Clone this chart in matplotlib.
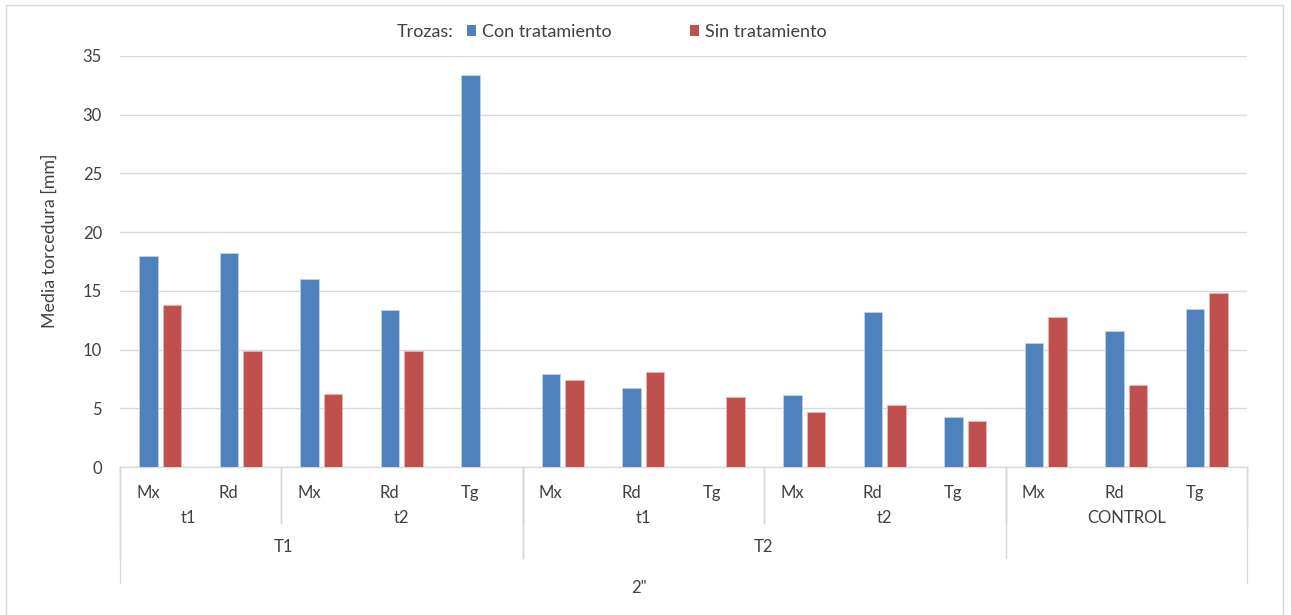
import matplotlib.pyplot as plt
from matplotlib.patches import Patch, Rectangle
import numpy as np

plt.rcParams['font.family'] = ['Lato', 'DejaVu Sans']

# data
piezas = ['Mx', 'Rd', 'Mx', 'Rd', 'Tg', 'Mx', 'Rd', 'Tg', 'Mx', 'Rd', 'Tg', 'Mx', 'Rd', 'Tg']
con_tratamiento = [17.95, 18.2, 16.05, 13.35, 33.4, 7.9, 6.7, np.nan, 6.15, 13.2, 4.25, 10.55, 11.55, 13.45]
sin_tratamiento = [13.8, 9.9, 6.2, 9.9, np.nan, 7.4, 8.05, 6.0, 4.65, 5.25, 3.9, 12.8, 6.95, 14.85]
# second level: (label, first index, last index)
subgrupos = [('t1', 0, 1), ('t2', 2, 4), ('t1', 5, 7), ('t2', 8, 10), ('CONTROL', 11, 13)]
# third level
grupos = [('T1', 0, 4), ('T2', 5, 10)]
diametro = '2"'

AZUL = '#4F81BD'
ROJO = '#C0504D'
GRIS = '#d9d9d9'
TXT = '#404040'
FS = 12

W, H = 1291, 615
fig = plt.figure(figsize=(W / 100, H / 100), dpi=100)
x0, x1, y0, y1 = 120, 1247, 467, 56
ax = fig.add_axes([x0 / W, (H - y0) / H, (x1 - x0) / W, (y0 - y1) / H])

n = len(piezas)
x = np.arange(n)
ancho = 0.23
ax.bar(x - 0.145, con_tratamiento, ancho, color=AZUL, edgecolor='#c6d5ea', linewidth=0.5, zorder=3)
ax.bar(x + 0.145, sin_tratamiento, ancho, color=ROJO, edgecolor='#e8bcbb', linewidth=0.5, zorder=3)

ax.set_xlim(-0.5, n - 0.5)
ax.set_ylim(0, 35)
ax.set_yticks(np.arange(0, 36, 5))
ax.yaxis.grid(True, color=GRIS, linewidth=1)
ax.set_axisbelow(True)
for s in ax.spines.values():
    s.set_visible(False)
ax.tick_params(axis='y', length=0, pad=13, labelsize=FS, labelcolor=TXT)
ax.set_xticks([])
ax.set_ylabel('Media torcedura [mm]', fontsize=12.8, color=TXT)
ax.yaxis.set_label_coords((58 - x0) / (x1 - x0), (y0 - 241) / (y0 - y1))

tr = ax.get_xaxis_transform()


def ya(p):
    # pixel row -> axes fraction
    return (y0 - p) / (y0 - y1)


def vline(xd, bottom_px):
    ax.plot([xd, xd], [0, ya(bottom_px)], transform=tr, color=GRIS, lw=1, clip_on=False)


# category axis line and boxes
ax.plot([-0.5, n - 0.5], [0, 0], transform=tr, color=GRIS, lw=1, clip_on=False)
for i, p in enumerate(piezas):
    ax.text(i - 0.15, ya(493), p, transform=tr, ha='center', va='center', fontsize=FS, color=TXT)
# a few labels sit left of their box centre
corr = {('t1', 0): -0.15, ('T1', 0): -0.47}
for lab, a, b in subgrupos:
    xc = (a + b) / 2 + corr.get((lab, a), 0)
    ax.text(xc, ya(518), lab, transform=tr, ha='center', va='center', fontsize=FS, color=TXT)
    vline(a - 0.5, 523)
    vline(b + 0.5, 523)
for lab, a, b in grupos:
    xc = (a + b) / 2 + corr.get((lab, a), 0)
    ax.text(xc, ya(547), lab, transform=tr, ha='center', va='center', fontsize=FS, color=TXT)
    vline(a - 0.5, 558)
    vline(b + 0.5, 558)
vline(-0.5, 583)
vline(n - 0.5, 583)
ax.text((n - 1) / 2 - 0.55, ya(588), diametro, transform=tr, ha='center', va='center', fontsize=FS, color=TXT)

# legend
fig.text(397 / W, (H - 32) / H, 'Trozas:', ha='left', va='center', fontsize=13, color=TXT)
handles = [Patch(facecolor=AZUL), Patch(facecolor=ROJO)]
fig.legend(handles, ['Con tratamiento', 'Sin tratamiento'], ncol=2, frameon=False,
           loc='center left', bbox_to_anchor=(458 / W, (H - 32) / H),
           handlelength=0.5, handleheight=0.5, handletextpad=0.35, columnspacing=4.3,
           fontsize=13, labelcolor=TXT, borderpad=0)

# chart border
fig.patches.append(Rectangle((6 / W, -0.02), (1283 - 6) / W, (H - 5) / H + 0.02,
                             transform=fig.transFigure, fill=False, edgecolor=GRIS, lw=1))

fig.savefig('out.png', dpi=100, facecolor='white')
